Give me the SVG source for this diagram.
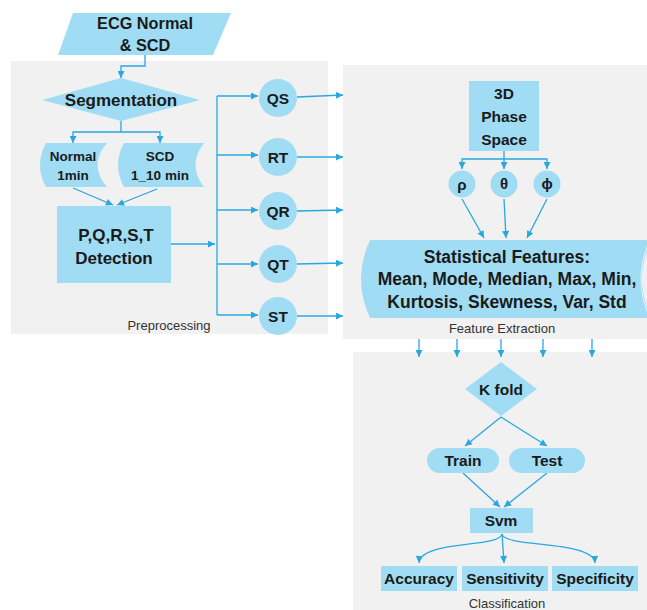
<svg xmlns="http://www.w3.org/2000/svg" width="647" height="610" viewBox="0 0 647 610">
<defs>
<marker id="ah" viewBox="0 0 10 10" refX="10" refY="5" markerWidth="8" markerHeight="7" orient="auto" markerUnits="userSpaceOnUse"><path d="M0,0 L10,5 L0,10 z" fill="#29a8df"/></marker>
<style>
.panel{fill:#f1f1f1}
.n{fill:#a0ddf4}
.c{fill:none;stroke:#29a8df;stroke-width:1.3;marker-end:url(#ah)}
.l{fill:none;stroke:#29a8df;stroke-width:1.3}
.t{font-family:"Liberation Sans",Arial,sans-serif;font-weight:bold;fill:#1a1a1a;text-anchor:middle}
.s{font-family:"Liberation Sans",Arial,sans-serif;fill:#333;text-anchor:middle;font-size:13px}
</style>
</defs>
<rect width="647" height="610" fill="#ffffff"/>
<g id="panels">
<rect class="panel" x="11" y="61" width="317" height="273"/>
<rect class="panel" x="343" y="65" width="304" height="274"/>
<rect class="panel" x="353" y="352" width="294" height="258"/>
<text class="s" x="169" y="330">Preprocessing</text>
<text class="s" x="502" y="333">Feature Extraction</text>
<text class="s" x="507" y="608">Classification</text>
</g>
<g id="connectors">
<polyline class="c" points="145,55 145,66 121,66 121,78"/>
<polyline class="l" points="121,121 121,132"/>
<polyline class="c" points="121,132 73,132 73,143"/>
<polyline class="c" points="121,132 160,132 160,143"/>
<line class="c" x1="73" y1="188" x2="113" y2="205"/>
<line class="c" x1="157" y1="189" x2="117" y2="205"/>
<line class="c" x1="171" y1="244" x2="215" y2="244"/>
<line class="l" x1="217" y1="96" x2="217" y2="315"/>
<line class="c" x1="217" y1="96" x2="258" y2="96"/>
<line class="c" x1="217" y1="155" x2="258" y2="155"/>
<line class="c" x1="217" y1="210" x2="258" y2="210"/>
<line class="c" x1="217" y1="264" x2="258" y2="264"/>
<line class="c" x1="217" y1="315" x2="258" y2="315"/>
<line class="c" x1="297" y1="97" x2="343" y2="95"/>
<line class="c" x1="297" y1="157" x2="343" y2="157"/>
<line class="c" x1="297" y1="211" x2="343" y2="210"/>
<line class="c" x1="297" y1="264" x2="343" y2="263"/>
<line class="c" x1="297" y1="316" x2="343" y2="316"/>
<line class="l" x1="504" y1="151" x2="504" y2="159"/>
<polyline class="c" points="504,159 462,159 462,169"/>
<line class="c" x1="504" y1="159" x2="504" y2="169"/>
<polyline class="c" points="504,159 547,159 547,169"/>
<line class="c" x1="462" y1="199" x2="484" y2="238"/>
<line class="c" x1="504" y1="199" x2="506" y2="238"/>
<line class="c" x1="547" y1="199" x2="527" y2="238"/>
<line class="c" x1="419" y1="339" x2="419" y2="357"/>
<line class="c" x1="457" y1="339" x2="457" y2="357"/>
<line class="c" x1="501" y1="339" x2="501" y2="357"/>
<line class="c" x1="543" y1="339" x2="543" y2="357"/>
<line class="c" x1="592" y1="339" x2="592" y2="357"/>
<line class="c" x1="501" y1="417" x2="465" y2="446"/>
<line class="c" x1="501" y1="417" x2="547" y2="446"/>
<line class="c" x1="463" y1="473" x2="500" y2="507"/>
<line class="c" x1="547" y1="473" x2="504" y2="507"/>
<path class="c" d="M502,534 C500,548 420,540 419,563"/>
<line class="c" x1="502" y1="534" x2="504" y2="563"/>
<path class="c" d="M502,534 C504,548 594,540 595,563"/>
</g>
<g id="ecg">
<polygon class="n" points="73,13 231,13 213,55 58,55"/>
<text class="t" font-size="16.3" x="145" y="29">ECG Normal</text>
<text class="t" font-size="16.3" x="145" y="51">&amp; SCD</text>
</g>
<g id="segmentation">
<polygon class="n" points="121,78 200,100 121,121 42,100"/>
<text class="t" font-size="17" x="121" y="106">Segmentation</text>
</g>
<g id="normal">
<path class="n" d="M46,143 H107 Q88,165 107,187 H46 Q34,165 46,143 Z"/>
<text class="t" font-size="13.5" x="73" y="161">Normal</text>
<text class="t" font-size="13.5" x="73" y="180">1min</text>
</g>
<g id="scd">
<path class="n" d="M124,143 H204 Q187,165 204,187 H124 Q112,165 124,143 Z"/>
<text class="t" font-size="13.5" x="160" y="161">SCD</text>
<text class="t" font-size="13.5" x="160" y="180">1_10 min</text>
</g>
<g id="detection">
<rect class="n" x="57" y="206" width="114" height="77"/>
<text class="t" font-size="17" x="116" y="241">P,Q,R,S,T</text>
<text class="t" font-size="17" x="114" y="264">Detection</text>
</g>
<g id="qs"><circle class="n" cx="278" cy="98" r="19"/><text class="t" font-size="15.5" x="278" y="104">QS</text></g>
<g id="rt"><circle class="n" cx="278" cy="157" r="19"/><text class="t" font-size="15.5" x="278" y="163">RT</text></g>
<g id="qr"><circle class="n" cx="278" cy="211" r="19"/><text class="t" font-size="15.5" x="278" y="217">QR</text></g>
<g id="qt"><circle class="n" cx="278" cy="264" r="19"/><text class="t" font-size="15.5" x="278" y="270">QT</text></g>
<g id="st"><circle class="n" cx="278" cy="316" r="19"/><text class="t" font-size="15.5" x="278" y="322">ST</text></g>
<g id="phase">
<rect class="n" x="469" y="81" width="70" height="70"/>
<text class="t" font-size="15.5" x="504" y="99">3D</text>
<text class="t" font-size="15.5" x="504" y="122">Phase</text>
<text class="t" font-size="15.5" x="504" y="145">Space</text>
</g>
<g id="rho"><circle class="n" cx="462" cy="184" r="13.5"/><text class="t" font-size="15" x="462" y="190">ρ</text></g>
<g id="theta"><circle class="n" cx="504" cy="184" r="13.5"/><text class="t" font-size="15" x="504" y="189">θ</text></g>
<g id="phi"><circle class="n" cx="547" cy="184" r="13.5"/><text class="t" font-size="15" x="547" y="189">ϕ</text></g>
<g id="stats">
<path class="n" d="M370,240 H652 Q632,279 652,318 H370 Q352,279 370,240 Z"/>
<path d="M650,240 Q632,279 650,318" fill="none" stroke="#e8f6fc" stroke-width="1"/>
<text class="t" font-size="17.5" x="507" y="263">Statistical Features:</text>
<text class="t" font-size="17.5" x="507" y="285">Mean, Mode, Median, Max, Min,</text>
<text class="t" font-size="17.5" x="507" y="308">Kurtosis, Skewness, Var, Std</text>
</g>
<g id="kfold">
<polygon class="n" points="501,362 537,389 501,416 465,389"/>
<text class="t" font-size="15.5" x="501" y="395">K fold</text>
</g>
<g id="train">
<rect class="n" x="427" y="448" width="72" height="25" rx="12.5"/>
<text class="t" font-size="15.5" x="463" y="466">Train</text>
</g>
<g id="test">
<rect class="n" x="509" y="448" width="76" height="25" rx="12.5"/>
<text class="t" font-size="15.5" x="547" y="466">Test</text>
</g>
<g id="svm">
<rect class="n" x="470" y="508" width="63" height="25"/>
<text class="t" font-size="15.5" x="501" y="526">Svm</text>
</g>
<g id="accuracy">
<rect class="n" x="381" y="566" width="76" height="25"/>
<text class="t" font-size="15.5" x="419" y="584">Accuracy</text>
</g>
<g id="sensitivity">
<rect class="n" x="462" y="566" width="86" height="25"/>
<text class="t" font-size="15.5" x="505" y="584">Sensitivity</text>
</g>
<g id="specificity">
<rect class="n" x="552" y="566" width="86" height="25"/>
<text class="t" font-size="15.5" x="595" y="584">Specificity</text>
</g>
</svg>
